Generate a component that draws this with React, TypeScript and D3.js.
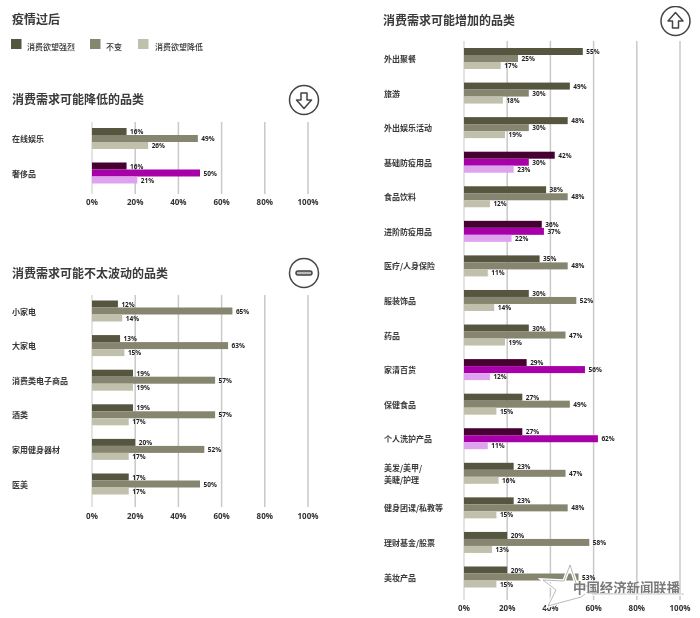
import React from "react";
import * as d3 from "d3";

const legendLabels = ["消费欲望强烈", "不变", "消费欲望降低"];
const ticks = [0, 20, 40, 60, 80, 100];

const downCats = ["在线娱乐", "奢侈品"];
const downStrong = [16, 16];
const downSame = [49, 50];
const downLow = [26, 21];
const downHighlight = ["奢侈品"];

const flatCats = ["小家电", "大家电", "消费类电子商品", "酒类", "家用健身器材", "医美"];
const flatStrong = [12, 13, 19, 19, 20, 17];
const flatSame = [65, 63, 57, 57, 52, 50];
const flatLow = [14, 15, 19, 17, 17, 17];

const upCats = ["外出聚餐", "旅游", "外出娱乐活动", "基础防疫用品", "食品饮料", "进阶防疫用品", "医疗/人身保险", "服装饰品", "药品", "家清百货", "保健食品", "个人洗护产品", "美发/美甲/|美睫/护理", "健身团课/私教等", "理财基金/股票", "美妆产品"];
const upStrong = [55, 49, 48, 42, 38, 36, 35, 30, 30, 29, 27, 27, 23, 23, 20, 20];
const upSame = [25, 30, 30, 30, 48, 37, 48, 52, 47, 56, 49, 62, 47, 48, 58, 53];
const upLow = [17, 18, 19, 23, 12, 22, 11, 14, 19, 12, 15, 11, 16, 15, 13, 15];
const upHighlight = ["基础防疫用品", "进阶防疫用品", "家清百货", "个人洗护产品"];

const grey = ["#54543f", "#85856f", "#c0c0ac"];
const magenta = ["#470032", "#a800a8", "#dfa2ee"];
const FONT = "'Noto Sans CJK SC', 'Noto Sans', sans-serif";
const NUM = "'Open Sans', sans-serif";

type PanelProps = {
  cats: string[]; strong: number[]; same: number[]; low: number[]; hi: string[];
  x0: number; x1: number; yFirst: number; yLast: number; gridTop: number; gridBottom: number; tickY: number; labelX: number;
};

function Panel({ cats, strong, same, low, hi, x0, x1, yFirst, yLast, gridTop, gridBottom, tickY, labelX }: PanelProps) {
  const x = d3.scaleLinear().domain([0, 100]).range([x0, x1]);
  const y = d3.scalePoint<string>().domain(cats).range([yFirst, yLast]);
  const inner = d3.scaleBand<number>().domain([0, 1, 2]).range([-10.5, 10.5]);
  return (
    <g>
      {ticks.map((t) => (
        <g key={t}>
          <line x1={x(t)} x2={x(t)} y1={gridTop} y2={gridBottom} stroke="#c9c9c9" strokeWidth={t === 0 ? 1 : 1.5} />
          <text x={x(t)} y={tickY} textAnchor="middle" fontFamily={NUM} fontWeight={700} fontSize={8} fill="#333">{t}%</text>
        </g>
      ))}
      {cats.map((c, i) => {
        const cy = y(c) as number;
        const pal = hi.includes(c) ? magenta : grey;
        const vals = [strong[i], same[i], low[i]];
        const lines = c.split("|");
        return (
          <g key={c}>
            {lines.map((l, k) => (
              <text key={l} x={labelX} y={cy + (k - (lines.length - 1) / 2) * 12} dominantBaseline="central" fontFamily={FONT} fontSize={8} fontWeight={700} fill="#3a3a3a">{l}</text>
            ))}
            {vals.map((v, k) => (
              <g key={k}>
                <rect x={x(0)} y={cy + (inner(k) as number)} width={x(v) - x(0)} height={inner.bandwidth()} fill={pal[k]} />
                <text x={x(v) + 3.5} y={cy + (inner(k) as number) + inner.bandwidth() / 2} dominantBaseline="central" fontFamily={NUM} fontWeight={700} fontSize={6.5} fill="#222">{v}%</text>
              </g>
            ))}
          </g>
        );
      })}
    </g>
  );
}

function Badge({ cx, cy, kind }: { cx: number; cy: number; kind: "up" | "down" | "flat" }) {
  const arrow = "M0,-8.5 L7.5,0 L3,0 L3,7 L-3,7 L-3,0 L-7.5,0 Z";
  return (
    <g transform={`translate(${cx},${cy})`} fill="none" stroke="#444" strokeWidth={1.5}>
      <circle r={14.5} fill="#fff" />
      {kind === "up" && <path d={arrow} strokeLinejoin="round" />}
      {kind === "down" && <path d={arrow} strokeLinejoin="round" transform="rotate(180)" />}
      {kind === "flat" && <rect x={-8} y={-2} width={16} height={4} rx={2} fill="#bbb" />}
    </g>
  );
}

function Title({ x, y, children }: { x: number; y: number; children: string }) {
  return <text x={x} y={y} dominantBaseline="central" fontFamily={FONT} fontSize={12} fontWeight={700} fill="#3a3a3a">{children}</text>;
}

export default function App() {
  const legendX = [11, 90, 138];
  const textX = [27, 106, 155];
  const star = "M570,565 L577,586 L596,586 L581,597 L548,606 L556,590 L543,580 L564,581 Z";
  return (
    <svg width={700} height={618} style={{ position: "absolute", left: 0, top: 0, background: "#fff" }}>
      <defs>
        <filter id="soft" x="0" y="0" width="100%" height="100%">
          <feGaussianBlur stdDeviation="0.5" />
        </filter>
      </defs>
      <g filter="url(#soft)">
        <Title x={12} y={18}>疫情过后</Title>
        {legendLabels.map((l, i) => (
          <g key={l}>
            <rect x={legendX[i]} y={39} width={10.5} height={10} fill={grey[i]} />
            <text x={textX[i]} y={46} dominantBaseline="central" fontFamily={FONT} fontSize={8} fontWeight={500} fill="#333">{l}</text>
          </g>
        ))}
        <Title x={12} y={98}>消费需求可能降低的品类</Title>
        <Badge cx={304} cy={100} kind="down" />
        <Panel cats={downCats} strong={downStrong} same={downSame} low={downLow} hi={downHighlight}
          x0={92} x1={308} yFirst={138.5} yLast={173} gridTop={122} gridBottom={194} tickY={205} labelX={12} />
        <Title x={12} y={272}>消费需求可能不太波动的品类</Title>
        <Badge cx={304} cy={273} kind="flat" />
        <Panel cats={flatCats} strong={flatStrong} same={flatSame} low={flatLow} hi={[]}
          x0={92} x1={308} yFirst={311} yLast={484} gridTop={295} gridBottom={507} tickY={519} labelX={12} />
        <Title x={383} y={19}>消费需求可能增加的品类</Title>
        <Badge cx={675.5} cy={21} kind="up" />
        <Panel cats={upCats} strong={upStrong} same={upSame} low={upLow} hi={upHighlight}
          x0={464} x1={680} yFirst={58.5} yLast={577} gridTop={41} gridBottom={600} tickY={611} labelX={384} />
        <g>
          <path d={star} fill="none" stroke="#fff" strokeWidth={3.5} />
          <path d={star} fill="none" stroke="#999" strokeWidth={0.7} />
          <text x={573} y={587} dominantBaseline="central" fontFamily={FONT} fontSize={13.4} fontWeight={700} fill="#7a7a7a" stroke="#fff" strokeWidth={0.5} paintOrder="stroke">中国经济新闻联播</text>
          <line x1={585} x2={684} y1={594.5} y2={594.5} stroke="#fff" strokeWidth={2.5} />
          <line x1={592} x2={684} y1={594} y2={594} stroke="#aaa" strokeWidth={0.6} />
        </g>
      </g>
    </svg>
  );
}
